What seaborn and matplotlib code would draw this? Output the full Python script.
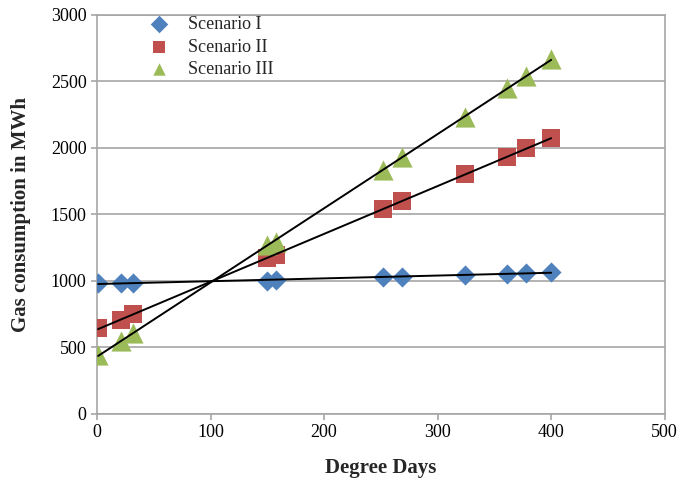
import numpy as np
import pandas as pd
import matplotlib
matplotlib.use("Agg")
import matplotlib.pyplot as plt
import seaborn as sns

degree_days = [1, 21, 32, 150, 158, 252, 269, 324, 361, 378, 400]
scenario_1 = [982, 985, 985, 1002, 1004, 1030, 1033, 1045, 1055, 1060, 1065]
scenario_2 = [646, 707, 750, 1173, 1195, 1538, 1605, 1802, 1935, 1997, 2072]
scenario_3 = [443, 551, 609, 1270, 1295, 1834, 1935, 2235, 2448, 2541, 2667]

series = {"Scenario I": scenario_1, "Scenario II": scenario_2, "Scenario III": scenario_3}
colors = {"Scenario I": "#4F81BD", "Scenario II": "#C0504D", "Scenario III": "#9BBB59"}
markers = {"Scenario I": "D", "Scenario II": "s", "Scenario III": "^"}
sizes = {"Scenario I": 105, "Scenario II": 150, "Scenario III": 210}

df = pd.concat(
    [pd.DataFrame({"x": degree_days, "y": v, "scenario": k}) for k, v in series.items()],
    ignore_index=True,
)

sns.set_style("white")
plt.rcParams["font.family"] = ["Liberation Serif", "DejaVu Serif"]

fig = plt.figure(figsize=(6.86, 4.83), dpi=100)
ax = fig.add_axes([0.1414, 0.1429, 0.8276, 0.8261])

for name in series:
    sub = df[df["scenario"] == name]
    ax.scatter(sub["x"], sub["y"], marker=markers[name], s=sizes[name],
               color=colors[name], label=name, zorder=3, linewidths=0)

# linear trend lines
for name in series:
    sub = df[df["scenario"] == name]
    sns.regplot(data=sub, x="x", y="y", ax=ax, scatter=False, ci=None,
                line_kws={"color": "black", "lw": 1.4, "zorder": 4})

ax.set_xlim(0, 500)
ax.set_ylim(0, 3000)
ax.set_xticks(range(0, 501, 100))
ax.set_yticks(range(0, 3001, 500))
ax.yaxis.grid(True, color="#a6a6a6", lw=1.2)
ax.xaxis.grid(False)
for sp in ax.spines.values():
    sp.set_color("#a6a6a6")
    sp.set_linewidth(1.2)
ax.tick_params(axis="both", labelsize=13, colors="black", length=4, width=1.2,
               direction="out", bottom=True, left=True)
ax.tick_params(axis="both", color="#a6a6a6")
ax.set_xlabel("Degree Days", fontsize=15, fontweight="bold", labelpad=12)
ax.set_ylabel("Gas consumption in MWh", fontsize=15, fontweight="bold", labelpad=14)

leg = ax.legend(loc="upper left", bbox_to_anchor=(0.065, 1.015), frameon=False,
                fontsize=13, handletextpad=0.6, labelspacing=0.3, borderaxespad=0)
for h in leg.legend_handles:
    h.set_sizes([80])

fig.savefig("out.png", dpi=100)
